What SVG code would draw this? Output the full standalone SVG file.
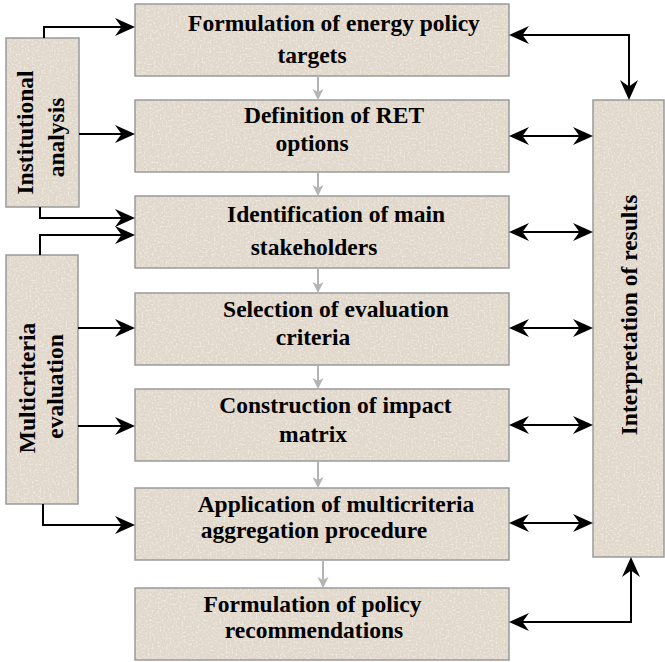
<svg xmlns="http://www.w3.org/2000/svg" width="665" height="662" viewBox="0 0 665 662">
  <defs>
    <!-- granite-like speckle for the box fills -->
    <filter id="grain" x="0" y="0" width="1" height="1" filterUnits="objectBoundingBox">
      <feTurbulence type="fractalNoise" baseFrequency="0.75" numOctaves="3" seed="7" result="n"/>
      <feColorMatrix in="n" type="matrix" values="0 0 0 0 0.68  0 0 0 0 0.61  0 0 0 0 0.52  0 0 0 1.8 -0.84" result="dark"/>
      <feTurbulence type="fractalNoise" baseFrequency="0.5" numOctaves="2" seed="21" result="n2"/>
      <feColorMatrix in="n2" type="matrix" values="0 0 0 0 0.96  0 0 0 0 0.94  0 0 0 0 0.90  0 0 0 1.6 -0.76" result="light"/>
      <feComposite in="dark" in2="SourceGraphic" operator="in" result="d2"/>
      <feComposite in="light" in2="SourceGraphic" operator="in" result="l2"/>
      <feMerge>
        <feMergeNode in="SourceGraphic"/>
        <feMergeNode in="d2"/>
        <feMergeNode in="l2"/>
      </feMerge>
    </filter>
    <pattern id="stone" patternUnits="userSpaceOnUse" width="665" height="662">
      <rect width="665" height="662" fill="#e3dace" filter="url(#grain)"/>
    </pattern>
    <marker id="head" markerUnits="userSpaceOnUse" markerWidth="22" markerHeight="20" viewBox="0 0 22 20" refX="12" refY="9" orient="auto-start-reverse">
      <path d="M0,0 L20,9 L0,18 L6.5,9 Z" fill="#000"/>
    </marker>
    <marker id="flow" markerUnits="userSpaceOnUse" markerWidth="14" markerHeight="12" viewBox="0 0 14 12" refX="7" refY="5.5" orient="auto">
      <path d="M0,0 L11,5.5 L0,11 L3,5.5 Z" fill="#b4b4b4"/>
    </marker>
    <style>
      .box { fill: url(#stone); stroke: #9a9a9a; stroke-width: 1.5; }
      .lbl { font-family: "Liberation Serif", "Times New Roman", serif; font-weight: bold; font-size: 23.5px; fill: #000; text-anchor: middle; }
      .link { fill: none; stroke: #000; stroke-width: 2; }
      .one { marker-end: url(#head); }
      .two { marker-start: url(#head); marker-end: url(#head); }
      .step { fill: none; stroke: #b4b4b4; stroke-width: 2; marker-end: url(#flow); }
    </style>
  </defs>

  <!-- main column -->
  <g id="targets">
    <rect class="box" x="135" y="4" width="374" height="72"/>
    <text class="lbl" x="334" y="31">Formulation of energy policy</text>
    <text class="lbl" x="312" y="63">targets</text>
  </g>
  <g id="ret-options">
    <rect class="box" x="135" y="100" width="374" height="72"/>
    <text class="lbl" x="334" y="123">Definition of RET</text>
    <text class="lbl" x="312" y="151">options</text>
  </g>
  <g id="stakeholders">
    <rect class="box" x="135" y="196" width="374" height="72"/>
    <text class="lbl" x="336" y="222">Identification of main</text>
    <text class="lbl" x="314" y="255">stakeholders</text>
  </g>
  <g id="criteria">
    <rect class="box" x="135" y="293" width="374" height="72"/>
    <text class="lbl" x="336" y="317">Selection of evaluation</text>
    <text class="lbl" x="313" y="345">criteria</text>
  </g>
  <g id="impact-matrix">
    <rect class="box" x="135" y="389" width="374" height="72"/>
    <text class="lbl" x="335.5" y="413">Construction of impact</text>
    <text class="lbl" x="313" y="442">matrix</text>
  </g>
  <g id="aggregation">
    <rect class="box" x="135" y="488" width="374" height="72"/>
    <text class="lbl" x="336" y="512">Application of multicriteria</text>
    <text class="lbl" x="314" y="538">aggregation procedure</text>
  </g>
  <g id="recommendations">
    <rect class="box" x="135" y="588" width="374" height="72"/>
    <text class="lbl" x="312.5" y="612">Formulation of policy</text>
    <text class="lbl" x="314" y="638">recommendations</text>
  </g>

  <!-- side columns -->
  <g id="institutional">
    <rect class="box" x="6" y="38" width="73" height="169"/>
    <text class="lbl" transform="translate(33,132.5) rotate(-90)">Institutional</text>
    <text class="lbl" transform="translate(64,137.5) rotate(-90)">analysis</text>
  </g>
  <g id="multicriteria">
    <rect class="box" x="6" y="255" width="72" height="249"/>
    <text class="lbl" transform="translate(35,388) rotate(-90)">Multicriteria</text>
    <text class="lbl" transform="translate(63,386.5) rotate(-90)">evaluation</text>
  </g>
  <g id="interpretation">
    <rect class="box" x="593" y="100" width="71" height="457"/>
    <text class="lbl" transform="translate(637,315) rotate(-90)">Interpretation of results</text>
  </g>

  <!-- connectors -->
  <g id="connectors">
    <path class="step" d="M318,76 V96"/>
    <path class="step" d="M318,172 V192"/>
    <path class="step" d="M318,268 V289"/>
    <path class="step" d="M318,365 V385"/>
    <path class="step" d="M318,461 V484"/>
    <path class="step" d="M323,560 V584"/>

    <path class="link one" d="M44,38 V27 H127"/>
    <path class="link one" d="M79,134 H127"/>
    <path class="link one" d="M40,207 V218 H127"/>
    <path class="link one" d="M40,255 V235 H127"/>
    <path class="link one" d="M78,328 H127"/>
    <path class="link one" d="M78,426 H127"/>
    <path class="link one" d="M43,504 V525 H127"/>

    <path class="link two" d="M517,35 H629 V92"/>
    <path class="link two" d="M517,136 H585"/>
    <path class="link two" d="M517,232 H585"/>
    <path class="link two" d="M517,328 H585"/>
    <path class="link two" d="M517,425 H585"/>
    <path class="link two" d="M517,523 H585"/>
    <path class="link two" d="M517,622 H631 V565"/>
  </g>
</svg>
